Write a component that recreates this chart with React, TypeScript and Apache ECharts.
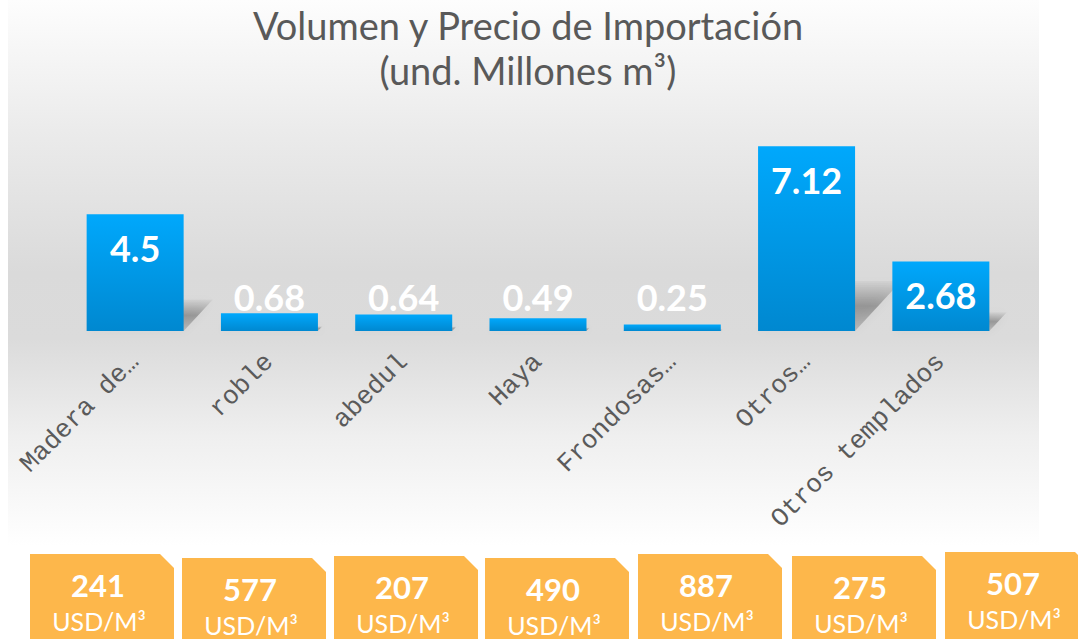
import React, { useEffect, useRef } from 'react';
import * as echarts from 'echarts';

// ---- data ----
const titleLines = ['Volumen y Precio de Importación', '(und. Millones m³)'];
const categories = ['Madera de…', 'roble', 'abedul', 'Haya', 'Frondosas…', 'Otros…', 'Otros templados'];
const volumes = [4.5, 0.68, 0.64, 0.49, 0.25, 7.12, 2.68];
const prices = [241, 577, 207, 490, 887, 275, 507];
const priceUnit = 'USD/M³';

// ---- layout (not data) ----
const boxLeft = [30, 182, 334, 485, 638, 792, 945];
const boxTop = [554, 558, 556, 558, 554, 556, 552];
const BOX_W = 144;
const BOX_H = 100;
const BOX_CUT = 14;
const BAR_W = 97;

export default function App() {
  const ref = useRef<HTMLDivElement>(null);

  useEffect(() => {
    if (!ref.current) return;
    const chart = echarts.init(ref.current, undefined, { renderer: 'svg' });

    const panel = {
      type: 'rect',
      z: -10,
      silent: true,
      shape: { x: 8, y: 0, width: 1031, height: 546 },
      style: {
        fill: new echarts.graphic.LinearGradient(0, 0, 0, 1, [
          { offset: 0, color: '#fdfdfd' },
          { offset: 0.24, color: '#ebebeb' },
          { offset: 0.5, color: '#dadada' },
          { offset: 0.62, color: '#dbdbdb' },
          { offset: 0.8, color: '#efefef' },
          { offset: 1, color: '#ffffff' },
        ]),
      },
    };

    const boxes = prices.map((p, i) => ({
      type: 'group',
      x: boxLeft[i],
      y: boxTop[i],
      children: [
        {
          type: 'polygon',
          shape: {
            points: [
              [0, 0],
              [BOX_W - BOX_CUT, 0],
              [BOX_W, BOX_CUT],
              [BOX_W, BOX_H],
              [0, BOX_H],
            ],
          },
          style: { fill: '#fdb74b' },
        },
        {
          type: 'text',
          x: BOX_W / 2 - 4,
          y: 31,
          style: {
            text: String(p),
            fill: '#ffffff',
            font: 'bold 31px Lato',
            textAlign: 'center',
            textVerticalAlign: 'middle',
          },
        },
        {
          type: 'text',
          x: BOX_W / 2 - 3,
          y: 67,
          style: {
            text: priceUnit,
            fill: '#ffffff',
            font: '25px Lato',
            textAlign: 'center',
            textVerticalAlign: 'middle',
          },
        },
      ],
    }));

    const option: any = {
      animation: false,
      title: {
        text: titleLines.join('\n'),
        left: 523,
        textAlign: 'center',
        top: -3,
        textStyle: {
          fontFamily: 'Lato',
          fontSize: 38,
          fontWeight: 'normal',
          color: '#595959',
          lineHeight: 45,
        },
      },
      graphic: [panel, ...boxes],
      grid: { left: 68, right: 70, top: 123.4, bottom: 308 },
      xAxis: {
        type: 'category',
        data: categories,
        axisLine: { show: false },
        axisTick: { show: false },
        axisLabel: {
          interval: 0,
          rotate: 45,
          margin: 27,
          fontFamily: 'Liberation Mono',
          fontSize: 26,
          color: '#5a5a5a',
        },
      },
      yAxis: {
        type: 'value',
        min: 0,
        max: 8,
        show: false,
        splitLine: { show: false },
      },
      series: [
        {
          type: 'custom',
          z: 1,
          silent: true,
          data: volumes.map((v, i) => [i, v]),
          renderItem: (params: any, api: any) => {
            const base = api.coord([api.value(0), 0]);
            const top = api.coord([api.value(0), api.value(1)]);
            const h = base[1] - top[1];
            const x0 = base[0] - BAR_W / 2;
            const x1 = base[0] + BAR_W / 2;
            const s = 0.25 * h;
            const k = 0.27 * h;
            return {
              type: 'polygon',
              shape: {
                points: [
                  [x0, base[1]],
                  [x1, base[1]],
                  [x1 + s, base[1] - k],
                  [x0 + s, base[1] - k],
                ],
              },
              style: {
                fill: new echarts.graphic.LinearGradient(0, 0, 0, 1, [
                  { offset: 0, color: 'rgba(0,0,0,0.03)' },
                  { offset: 0.5, color: 'rgba(0,0,0,0.28)' },
                  { offset: 1, color: 'rgba(0,0,0,0.14)' },
                ]),
                shadowBlur: 10,
                shadowColor: 'rgba(0,0,0,0.2)',
              },
            };
          },
        },
        {
          type: 'bar',
          z: 3,
          barWidth: BAR_W,
          data: volumes.map((v) => ({
            value: v,
            label:
              v >= 1
                ? { position: 'insideTop', distance: 16 }
                : { position: 'insideBottom', distance: 16.5 },
          })),
          itemStyle: {
            color: new echarts.graphic.LinearGradient(0, 0, 0, 1, [
              { offset: 0, color: '#00a8fc' },
              { offset: 1, color: '#0088d0' },
            ]),
          },
          label: {
            show: true,
            color: '#ffffff',
            fontFamily: 'Lato',
            fontWeight: 'bold',
            fontSize: 36,
          },
        },
      ],
    };

    chart.setOption(option);
    return () => chart.dispose();
  }, []);

  return (
    <div
      ref={ref}
      style={{ position: 'absolute', left: 0, top: 0, width: 1078, height: 639, background: '#ffffff' }}
    />
  );
}
